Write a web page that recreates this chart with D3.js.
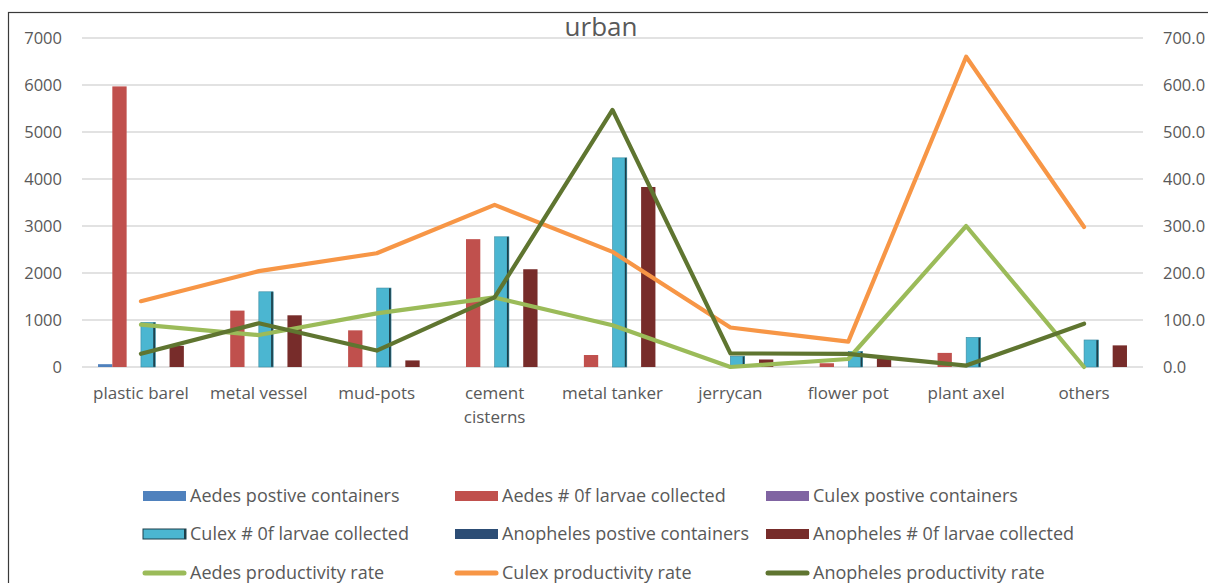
<!DOCTYPE html>
<html><head><meta charset="utf-8">
<script src="https://cdn.jsdelivr.net/npm/d3@7/dist/d3.min.js"></script>
<style>
html,body{margin:0;padding:0;background:#fff;}
svg{display:block;font-family:"Open Sans",sans-serif;}
</style></head>
<body>
<svg id="chart" width="1208" height="583"></svg>
<script>
const title = "urban";
const categories = ["plastic barel","metal vessel","mud-pots","cement cisterns","metal tanker","jerrycan","flower pot","plant axel","others"];
const categoryLines = [["plastic barel"],["metal vessel"],["mud-pots"],["cement","cisterns"],["metal tanker"],["jerrycan"],["flower pot"],["plant axel"],["others"]];

const aedesPositive     = [60, 0, 0, 0, 0, 0, 0, 0, 0];
const aedesLarvae       = [5970, 1200, 780, 2720, 255, 0, 80, 300, 0];
const culexPositive     = [0, 0, 0, 0, 0, 0, 0, 0, 0];
const culexLarvae       = [950, 1600, 1680, 2770, 4450, 230, 330, 630, 575];
const anophelesPositive = [0, 0, 0, 0, 0, 0, 0, 0, 0];
const anophelesLarvae   = [450, 1100, 140, 2080, 3830, 160, 180, 0, 460];

const aedesRate     = [90, 68, 114, 148, 89, 0, 17, 300, 0];
const culexRate     = [140, 204, 242, 345, 245, 84, 54, 660, 298];
const anophelesRate = [28, 93, 35, 148, 547, 29, 28, 3, 92];

const leftTicks  = [0,1000,2000,3000,4000,5000,6000,7000];
const rightTicks = [0,100,200,300,400,500,600,700];

const barSeries = [
  {name:"Aedes postive containers", values:aedesPositive, color:"#4f81bd"},
  {name:"Aedes # 0f larvae collected", values:aedesLarvae, color:"#c0504d"},
  {name:"Culex postive containers", values:culexPositive, color:"#8064a2"},
  {name:"Culex # 0f larvae collected", values:culexLarvae, color:"#4bb6d1", edge:"#1d3f4a"},
  {name:"Anopheles postive containers", values:anophelesPositive, color:"#2c4d75"},
  {name:"Anopheles # 0f larvae collected", values:anophelesLarvae, color:"#772c2a"}
];
const lineSeries = [
  {name:"Aedes productivity rate", values:aedesRate, color:"#9bbb59"},
  {name:"Culex productivity rate", values:culexRate, color:"#f79646"},
  {name:"Anopheles productivity rate", values:anophelesRate, color:"#5f7530"}
];

const svg = d3.select("#chart");
const textColor = "#595959";

// frame
svg.append("rect").attr("x",8.5).attr("y",12.5).attr("width",1220).attr("height",600)
  .attr("fill","none").attr("stroke","#3a3a3a").attr("stroke-width",1.2);

const plotL = 82, plotR = 1143, plotT = 38, plotB = 367;
const x = d3.scaleBand().domain(categories).range([plotL,plotR]).paddingInner(0).paddingOuter(0);
const xs = d3.scaleBand().domain(d3.range(barSeries.length)).range([0,x.bandwidth()]).paddingInner(0).paddingOuter(1.12);
const y = d3.scaleLinear().domain([0,7000]).range([plotB,plotT]);
const y2 = d3.scaleLinear().domain([0,700]).range([plotB,plotT]);

// gridlines
svg.append("g").selectAll("line").data(leftTicks).join("line")
  .attr("x1",plotL).attr("x2",plotR).attr("y1",d=>y(d)).attr("y2",d=>y(d))
  .attr("stroke","#d9d9d9").attr("stroke-width",1.5);

// left axis
const gl = svg.append("g").attr("transform",`translate(${plotL},0)`)
  .call(d3.axisLeft(y).tickValues(leftTicks).tickSize(0).tickPadding(20).tickFormat(d3.format("d")));
gl.select(".domain").remove();
gl.selectAll("text").attr("fill",textColor).style("font-size","16.5px").style("font-family","'Open Sans',sans-serif");

// right axis
const gr = svg.append("g").attr("transform",`translate(${plotR},0)`)
  .call(d3.axisRight(y2).tickValues(rightTicks).tickSize(0).tickPadding(20).tickFormat(d3.format(".1f")));
gr.select(".domain").remove();
gr.selectAll("text").attr("fill",textColor).style("font-size","16.5px").style("font-family","'Open Sans',sans-serif");

// bars
barSeries.forEach((s,i)=>{
  const g = svg.append("g");
  g.selectAll("rect.bar").data(s.values).join("rect").attr("class","bar")
    .attr("x",(d,j)=>x(categories[j])+xs(i))
    .attr("y",d=>y(d))
    .attr("width",xs.bandwidth())
    .attr("height",d=>y(0)-y(d))
    .attr("fill",s.color);
  if (s.edge) {
    g.selectAll("rect.edge").data(s.values).join("rect").attr("class","edge")
      .attr("x",(d,j)=>x(categories[j])+xs(i)+xs.bandwidth()-2)
      .attr("y",d=>y(d))
      .attr("width",2)
      .attr("height",d=>y(0)-y(d))
      .attr("fill",s.edge);
    g.selectAll("rect.edge2").data(s.values).join("rect").attr("class","edge2")
      .attr("x",(d,j)=>x(categories[j])+xs(i))
      .attr("y",d=>y(d))
      .attr("width",xs.bandwidth())
      .attr("height",d=>Math.max(0,y(0)-y(d)))
      .attr("fill","none").attr("stroke","#3a8aa0").attr("stroke-width",0.6);
  }
});

// lines
lineSeries.forEach(s=>{
  const line = d3.line().x((d,j)=>x(categories[j])+x.bandwidth()/2).y(d=>y2(d));
  svg.append("path").datum(s.values).attr("d",line)
    .attr("fill","none").attr("stroke",s.color).attr("stroke-width",4.2)
    .attr("stroke-linejoin","round").attr("stroke-linecap","round");
});

// category labels
const cl = svg.append("g");
categoryLines.forEach((lines,j)=>{
  lines.forEach((t,k)=>{
    cl.append("text").attr("x",x(categories[j])+x.bandwidth()/2).attr("y",399+k*24)
      .attr("text-anchor","middle").attr("fill",textColor).style("font-size","17px").text(t);
  });
});

// title
svg.append("text").attr("x",601).attr("y",36).attr("text-anchor","middle")
  .attr("fill",textColor).style("font-size","26px").text(title);

// legend
const legendItems = [...barSeries.map(s=>({...s,type:"bar"})), ...lineSeries.map(s=>({...s,type:"line"}))];
const colX = [143, 455, 766];
const rowY = [496, 534, 573];
const lg = svg.append("g");
legendItems.forEach((it,i)=>{
  const cx = colX[i%3], cy = rowY[Math.floor(i/3)];
  if (it.type==="bar") {
    lg.append("rect").attr("x",cx).attr("y",cy-5).attr("width",43).attr("height",10).attr("fill",it.color);
    if (it.edge) {
      lg.append("rect").attr("x",cx).attr("y",cy-5).attr("width",43).attr("height",10)
        .attr("fill","none").attr("stroke",it.edge).attr("stroke-width",1);
      lg.append("rect").attr("x",cx+41).attr("y",cy-5).attr("width",2).attr("height",10).attr("fill",it.edge);
    }
  } else {
    lg.append("line").attr("x1",cx+2).attr("x2",cx+41).attr("y1",cy).attr("y2",cy)
      .attr("stroke",it.color).attr("stroke-width",5).attr("stroke-linecap","round");
  }
  lg.append("text").attr("x",cx+47).attr("y",cy+6).attr("fill",textColor)
    .style("font-size","18px").text(it.name);
});
</script>
</body></html>
